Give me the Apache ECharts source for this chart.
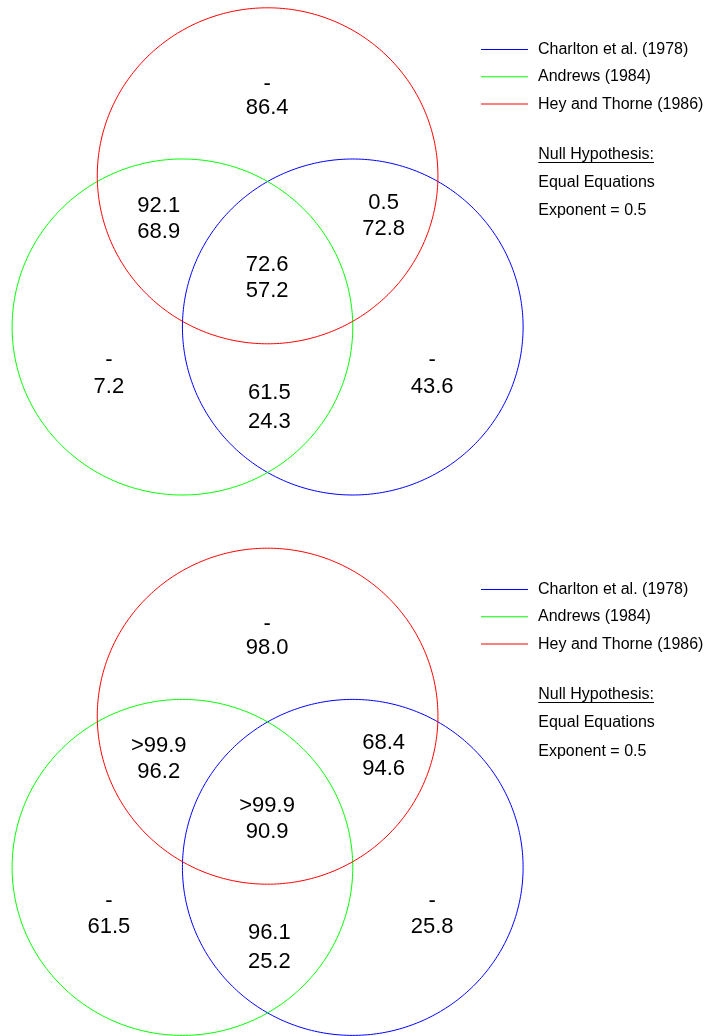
<!DOCTYPE html>
<html><head><meta charset="utf-8">
<script src="https://cdn.jsdelivr.net/npm/echarts@6/dist/echarts.min.js"></script>
<style>html,body{margin:0;padding:0;background:#fff}#chart{width:706px;height:1036px}</style>
</head><body><div id="chart"></div>
<script>
// ---- data ----
const setNames = ['Charlton et al. (1978)', 'Andrews (1984)', 'Hey and Thorne (1986)'];
const regionNames = ['Hey and Thorne only', 'Andrews & Hey and Thorne', 'Charlton & Hey and Thorne', 'All three', 'Andrews only', 'Charlton only', 'Charlton & Andrews'];
const topLine1 = ['-', '92.1', '0.5', '72.6', '-', '-', '61.5'];
const topLine2 = ['86.4', '68.9', '72.8', '57.2', '7.2', '43.6', '24.3'];
const bottomLine1 = ['-', '>99.9', '68.4', '>99.9', '-', '-', '96.1'];
const bottomLine2 = ['98.0', '96.2', '94.6', '90.9', '61.5', '25.8', '25.2'];
const noteLines = ['Null Hypothesis:', 'Equal Equations', 'Exponent = 0.5'];

// ---- layout / style ----
const FONT = '"Liberation Sans", Arial, sans-serif';
const setColors = ['#0000ff', '#00ff00', '#ff0000'];
const circleCenters = [[0.5, 0], [-0.5, 0], [0, 0.9]]; // diagram units, radius = 1
const circleRadius = 1;
const regionAnchors = [[-0.003, 1.377], [-0.639, 0.643], [0.681, 0.664], [-0.003, 0.290], [-0.932, -0.276], [0.966, -0.276], [0.010, -0.478]];
const regionLineHeights = [24, 26, 26, 26, 26.5, 26.5, 29];
const panelOffset = 540.4;
const panels = [[topLine1, topLine2], [bottomLine1, bottomLine2]];

const chart = echarts.init(document.getElementById('chart'), null, {renderer: 'canvas'});

const grids = [], xAxes = [], yAxes = [], series = [], legends = [], graphics = [];

panels.forEach((lines, p) => {
  const off = p * panelOffset;
  // series names of each panel are kept distinct (invisible suffix) so each legend binds to its own panel
  const panelNames = setNames.map(n => n + '\u200b'.repeat(p));
  grids.push({left: 12.1, top: 7.8 + off, width: 511, height: 487.2, containLabel: false});
  xAxes.push({type: 'value', gridIndex: p, min: -1.5, max: 1.5, show: false});
  yAxes.push({type: 'value', gridIndex: p, min: -1, max: 1.9, show: false});

  panelNames.forEach((name, i) => {
    series.push({
      type: 'custom',
      name: name,
      xAxisIndex: p, yAxisIndex: p,
      coordinateSystem: 'cartesian2d',
      clip: false,
      silent: true,
      itemStyle: {color: setColors[i]},
      data: [[circleCenters[i][0], circleCenters[i][1], circleRadius]],
      renderItem: function (params, api) {
        const cx = api.value(0), cy = api.value(1), r = api.value(2);
        const pts = [];
        const N = 360;
        for (let k = 0; k < N; k++) {
          const a = k / N * Math.PI * 2;
          pts.push(api.coord([cx + r * Math.cos(a), cy + r * Math.sin(a)]));
        }
        return {
          type: 'polygon',
          shape: {points: pts},
          style: {fill: null, stroke: setColors[i], lineWidth: 1}
        };
      }
    });
  });

  series.push({
    type: 'custom',
    name: 'labels' + p,
    xAxisIndex: p, yAxisIndex: p,
    coordinateSystem: 'cartesian2d',
    clip: false,
    silent: true,
    data: regionAnchors.map((a, i) => [a[0], a[1], i]),
    renderItem: function (params, api) {
      const i = api.value(2);
      const pt = api.coord([api.value(0), api.value(1)]);
      return {
        type: 'text',
        x: pt[0], y: pt[1],
        style: {
          text: lines[0][i] + '\n' + lines[1][i],
          align: 'center', verticalAlign: 'middle',
          fontSize: 22, fontFamily: FONT, lineHeight: regionLineHeights[i],
          fill: '#000'
        }
      };
    }
  });

  legends.push({
    data: panelNames.map((n, i) => ({name: n, itemStyle: {color: setColors[i]}})),
    formatter: n => n.replace(/\u200b/g, ''),
    orient: 'vertical',
    left: 481, top: 36.5 + Math.round(off),
    padding: 0,
    icon: 'rect', itemWidth: 47, itemHeight: 1,
    itemGap: 1.3,
    selectedMode: false,
    itemStyle: {borderWidth: 0},
    textStyle: {fontSize: 16, fontFamily: FONT, color: '#000', lineHeight: 16, padding: [0, 0, 10, 5]}
  });

  const noteY = [154.5, 182.6, 211];
  noteLines.forEach((t, k) => {
    graphics.push({
      type: 'text', x: 538.3, y: noteY[k] + off, silent: true,
      style: {text: t, fontSize: 16, fontFamily: FONT, fill: '#000', verticalAlign: 'middle'}
    });
  });
  graphics.push({
    type: 'line', silent: true,
    shape: {x1: 538.3, y1: 162.5 + Math.round(off), x2: 654, y2: 162.5 + Math.round(off)},
    style: {stroke: '#000', lineWidth: 1}
  });
});

chart.setOption({
  animation: false,
  backgroundColor: '#fff',
  grid: grids,
  xAxis: xAxes,
  yAxis: yAxes,
  legend: legends,
  graphic: graphics,
  series: series
});
</script>
</body></html>
